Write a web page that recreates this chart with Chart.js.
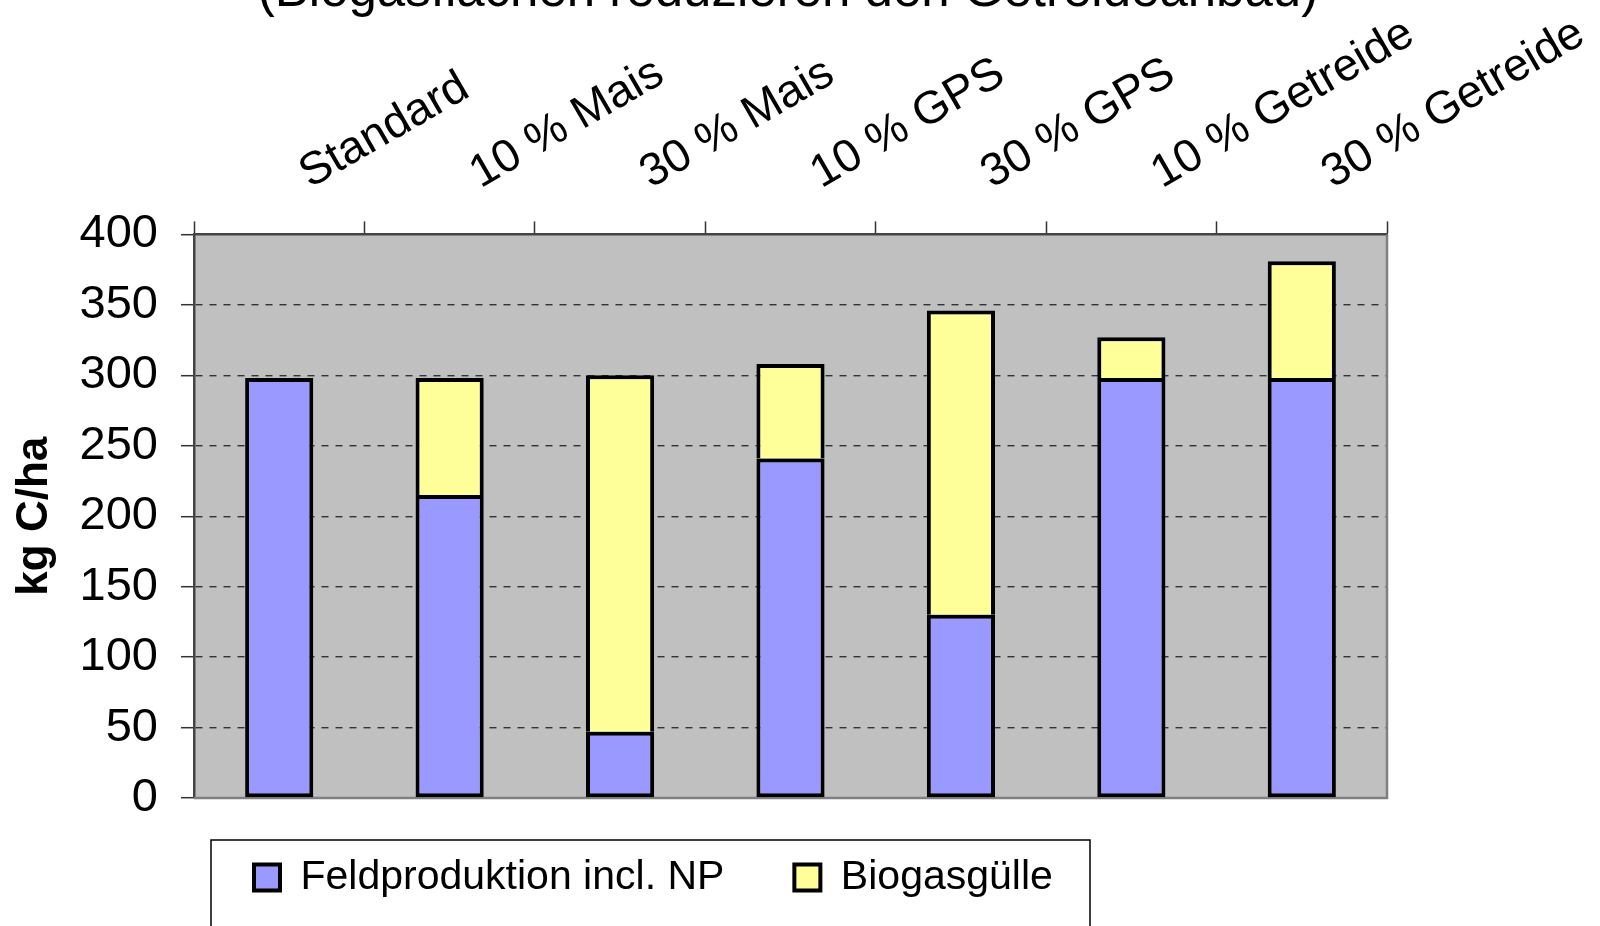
<!DOCTYPE html>
<html>
<head>
<meta charset="utf-8">
<script src="https://cdn.jsdelivr.net/npm/chart.js@4/dist/chart.umd.min.js"></script>
<style>
  html, body { margin: 0; padding: 0; background: #ffffff; overflow: hidden; width: 1600px; height: 926px; }
  #wrap { position: absolute; left: 0; top: -60px; width: 1600px; height: 1066px; }
</style>
</head>
<body>
<div id="wrap"><canvas id="c" width="1600" height="1066"></canvas></div>
<script>
const titleText = '(Biogasflächen reduzieren den Getreideanbau)';
const categories = ['Standard', '10 % Mais', '30 % Mais', '10 % GPS', '30 % GPS', '10 % Getreide', '30 % Getreide'];
const feldproduktion = [298, 215, 47, 241, 130, 298, 298];
const biogasguelle = [0, 83, 253, 67, 216, 29, 83];
const seriesNames = ['Feldproduktion incl. NP', 'Biogasgülle'];
const yTitle = 'kg C/ha';
const yMin = 0, yMax = 400, yStep = 50;

Chart.defaults.font.family = "'Liberation Sans', Arial, sans-serif";
Chart.defaults.color = '#000000';

const decor = {
  id: 'decor',
  afterLayout(chart) {
    const lg = chart.legend;
    if (lg) {
      const w = lg.width, h = lg.height;
      lg.left = 184; lg.right = 184 + w;
      lg.top = 847; lg.bottom = 847 + h;
    }
  },
  beforeDraw(chart) {
    const {ctx, chartArea: a} = chart;
    ctx.save();
    ctx.fillStyle = '#C0C0C0';
    ctx.fillRect(a.left, a.top, a.right - a.left, a.bottom - a.top);
    ctx.restore();
  },
  beforeDatasetsDraw(chart) {
    const {ctx, chartArea: a} = chart;
    ctx.save();
    ctx.strokeStyle = '#808080';
    ctx.lineWidth = 2.5;
    ctx.beginPath();
    ctx.moveTo(a.left, a.bottom);
    ctx.lineTo(a.right, a.bottom);
    ctx.lineTo(a.right, a.top);
    ctx.stroke();
    ctx.restore();
  },
  afterDraw(chart) {
    const {ctx} = chart;
    ctx.save();
    ctx.strokeStyle = '#000000';
    ctx.lineWidth = 1.5;
    ctx.strokeRect(211, 900, 879, 300);
    ctx.restore();
  }
};

new Chart(document.getElementById('c'), {
  type: 'bar',
  data: {
    labels: categories,
    datasets: [
      {
        label: seriesNames[0],
        data: feldproduktion,
        backgroundColor: '#9999FF',
        borderColor: '#000000',
        borderWidth: 4,
        borderSkipped: false,
        barPercentage: 0.4,
        categoryPercentage: 1.0
      },
      {
        label: seriesNames[1],
        data: biogasguelle,
        backgroundColor: '#FFFF99',
        borderColor: '#000000',
        borderWidth: 4,
        borderSkipped: 'start',
        barPercentage: 0.4,
        categoryPercentage: 1.0
      }
    ]
  },
  options: {
    responsive: false,
    animation: false,
    devicePixelRatio: 1,
    layout: { padding: { left: 0, top: 0, right: 24, bottom: 87 } },
    plugins: {
      title: {
        display: true,
        text: titleText,
        color: '#000000',
        font: { size: 51, weight: 'normal', lineHeight: 0.4 },
        padding: { top: 42, bottom: 0 }
      },
      legend: {
        display: true,
        position: 'bottom',
        align: 'start',
        labels: {
          color: '#000000',
          font: { size: 41 },
          boxWidth: 26,
          boxHeight: 26,
          padding: 70
        }
      },
      tooltip: { enabled: false }
    },
    scales: {
      x: {
        position: 'top',
        stacked: true,
        offset: true,
        afterFit(scale) { scale.height = 232; },
        grid: {
          display: true,
          offset: true,
          drawOnChartArea: false,
          drawTicks: true,
          tickLength: 13,
          tickColor: '#333333',
          tickWidth: 1.5
        },
        border: { display: true, color: '#444444', width: 2.5 },
        ticks: {
          autoSkip: false,
          minRotation: 30,
          maxRotation: 30,
          labelOffset: 52,
          padding: 20,
          color: '#000000',
          font: { size: 46 }
        }
      },
      y: {
        stacked: true,
        min: yMin,
        max: yMax,
        afterFit(scale) { scale.width = 194; },
        title: {
          display: true,
          text: yTitle,
          color: '#000000',
          font: { size: 44, weight: 'bold' },
          padding: { top: 8, bottom: 0 }
        },
        grid: {
          display: true,
          drawOnChartArea: true,
          drawTicks: true,
          tickLength: 13,
          tickColor: '#333333',
          tickWidth: 1.5,
          lineWidth: 1.4,
          color: (c) => (c.tick && (c.tick.value === yMin || c.tick.value === yMax)) ? 'rgba(0,0,0,0)' : '#333333'
        },
        border: { display: true, color: '#444444', width: 2.5, dash: [7, 7] },
        ticks: {
          stepSize: yStep,
          padding: 23,
          color: '#000000',
          font: { size: 47 }
        }
      },
      yRight: {
        axis: 'y',
        type: 'linear',
        position: 'right',
        display: true,
        afterFit(scale) { scale.width = 189; },
        grid: { display: false, drawTicks: false },
        border: { display: false },
        ticks: { display: false }
      }
    }
  },
  plugins: [decor]
});
</script>
</body>
</html>
